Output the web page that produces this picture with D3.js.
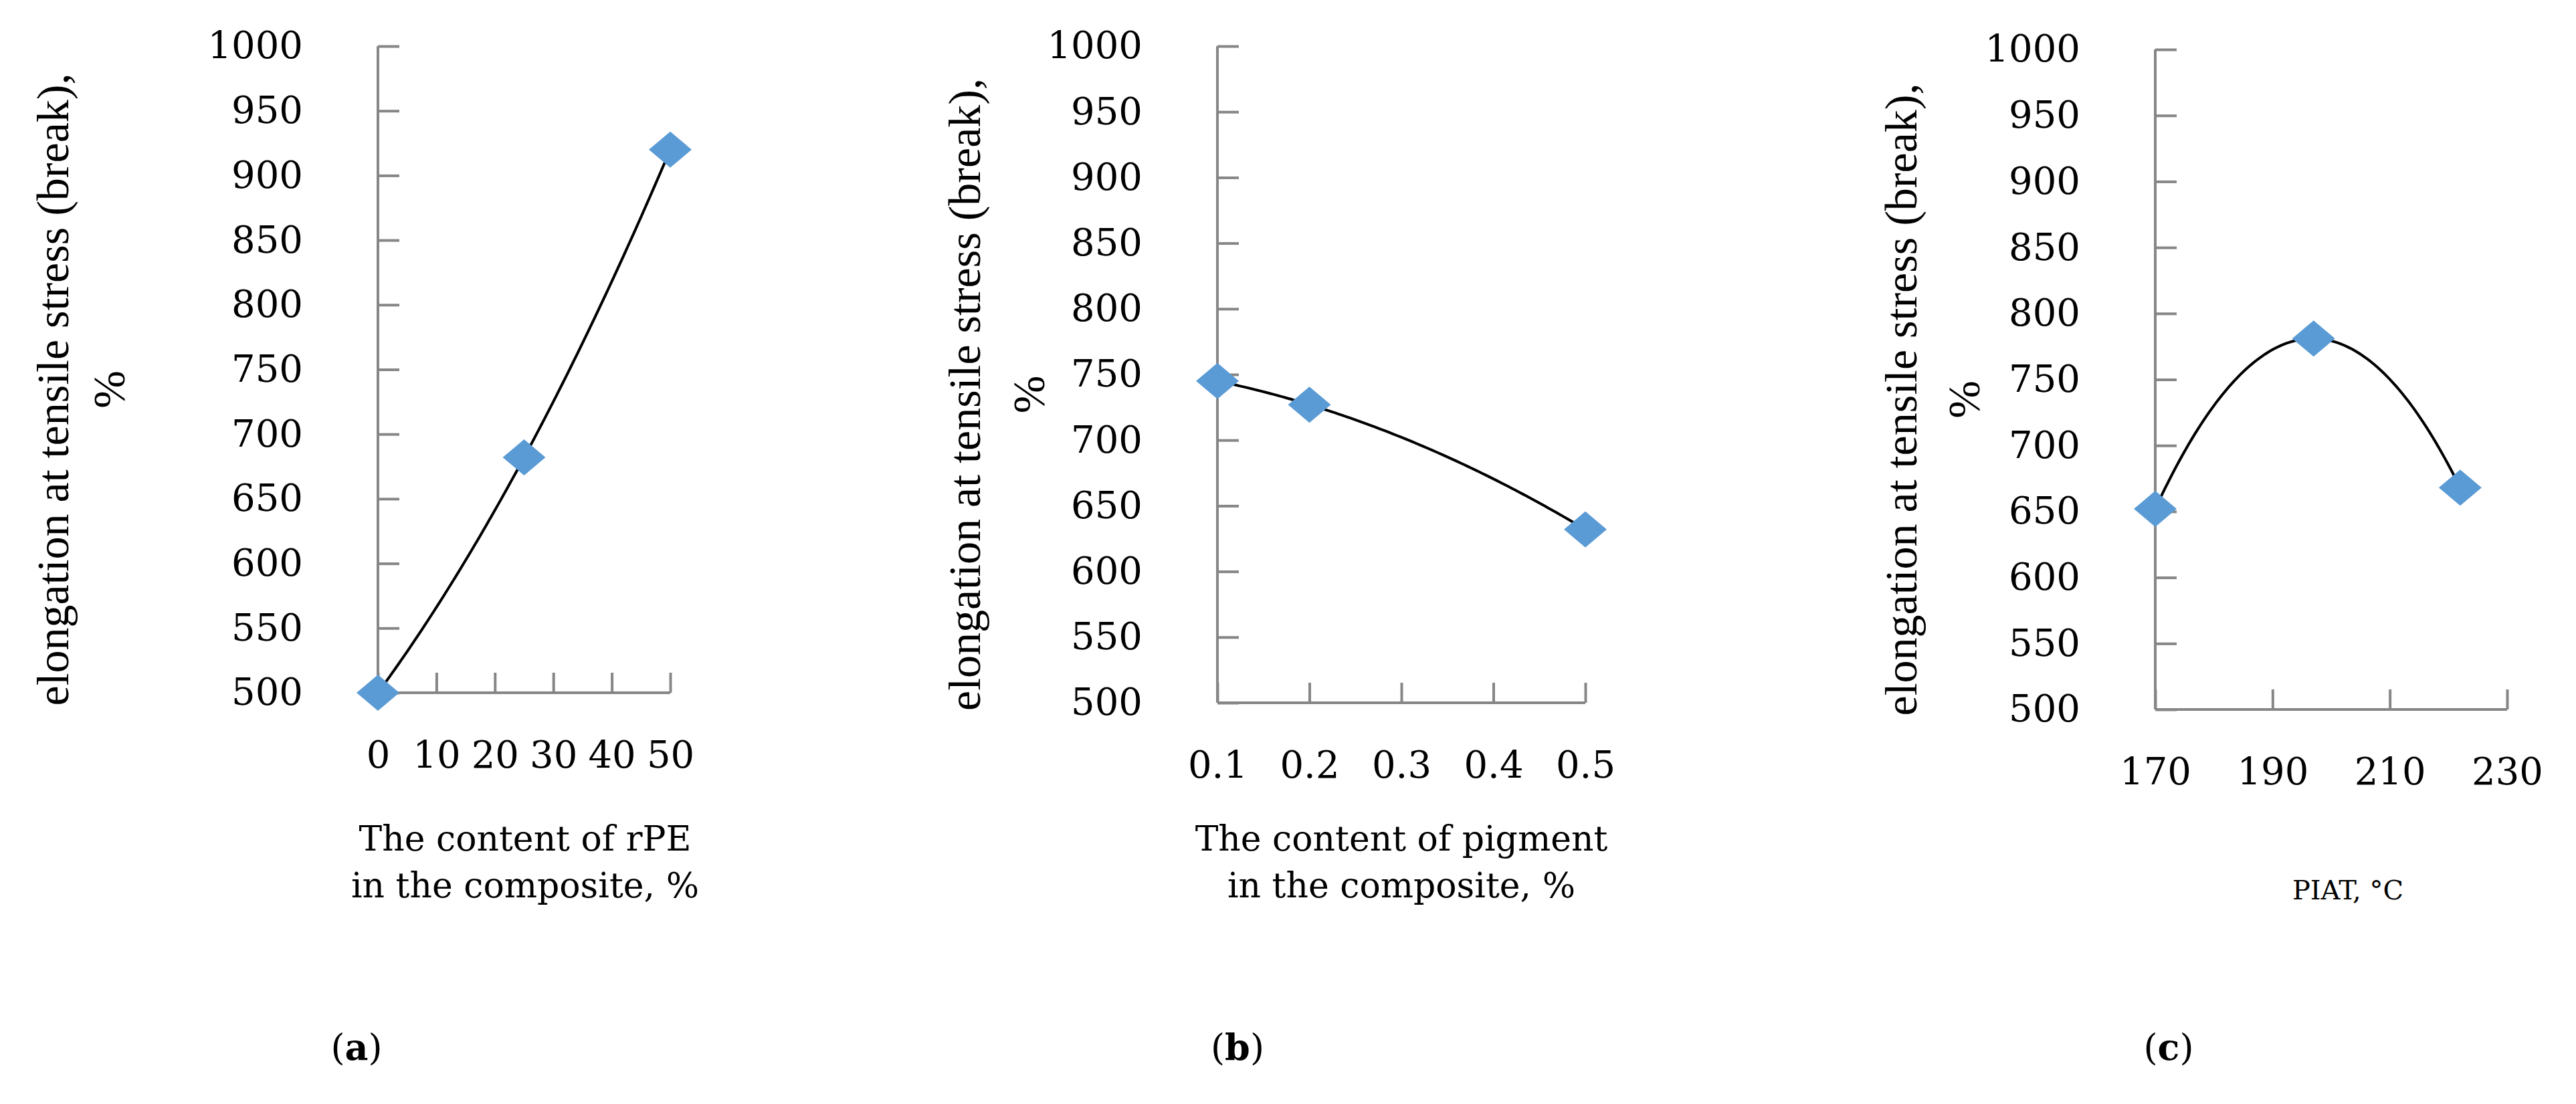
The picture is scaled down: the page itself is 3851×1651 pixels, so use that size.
<!DOCTYPE html>
<html><head><meta charset="utf-8">
<script src="https://cdn.jsdelivr.net/npm/d3@7"></script>
<style>body{margin:0;background:#fff}</style>
</head><body>
<div class="chart"></div>
<script>
var W = 3851, H = 1651;
var yTicks = [500, 550, 600, 650, 700, 750, 800, 850, 900, 950, 1000];

var rpeX = [0, 25, 50];
var rpeY = [500, 682, 920];
var rpeTicks = [0, 10, 20, 30, 40, 50];

var pigX = [0.1, 0.2, 0.5];
var pigY = [745, 727, 632];
var pigTicks = [0.1, 0.2, 0.3, 0.4, 0.5];

var piatX = [170, 197, 222];
var piatY = [652, 781, 668];
var piatTicks = [170, 190, 210, 230];

var font = "'DejaVu Serif', serif";
var fontY = "'Liberation Serif', serif";
var svg = d3.select(".chart").append("svg").attr("width", W).attr("height", H);

var panels = [
	{xs: rpeX, ys: rpeY, ticks: rpeTicks, left: 565, right: 1002, top: 69, bottom: 1036,
	 fmt: d3.format("d"), title: ["The content of rPE", "in the composite, %"], titleX: 785, titleSize: 52,
	 yl: 86, pct: 170, tag: "a", tagX: 533},
	{xs: pigX, ys: pigY, ticks: pigTicks, left: 1820, right: 2370, top: 69, bottom: 1051,
	 fmt: d3.format(".1f"), title: ["The content of pigment", "in the composite, %"], titleX: 2095, titleSize: 52,
	 yl: 1449, pct: 1545, tag: "b", tagX: 1850},
	{xs: piatX, ys: piatY, ticks: piatTicks, left: 3222, right: 3748, top: 74, bottom: 1061,
	 fmt: d3.format("d"), title: ["PIAT, °C"], titleX: 3510, titleSize: 40,
	 yl: 2849, pct: 2943, tag: "c", tagX: 3242}
];

function quad(xs, ys) {
	// polynomial (order 2) trendline through the three points
	return function(x) {
		var s = 0;
		for (var i = 0; i < 3; i++) {
			var t = ys[i];
			for (var j = 0; j < 3; j++) if (j != i) t *= (x - xs[j]) / (xs[i] - xs[j]);
			s += t;
		}
		return s;
	};
}

panels.forEach(function(p) {
	var x = d3.scaleLinear().domain(d3.extent(p.ticks)).range([p.left, p.right]);
	var y = d3.scaleLinear().domain([500, 1000]).range([p.bottom, p.top]);
	var g = svg.append("g");

	var ya = g.append("g").attr("transform", "translate(" + p.left + ",0)")
		.call(d3.axisRight(y).tickValues(yTicks).tickSize(32).tickFormat(d3.format("d")));
	ya.selectAll("text").attr("x", -112).attr("text-anchor", "end");
	var xa = g.append("g").attr("transform", "translate(0," + p.bottom + ")")
		.call(d3.axisTop(x).tickValues(p.ticks).tickSize(30).tickFormat(p.fmt));
	xa.selectAll("text").attr("y", 112);
	g.selectAll(".domain, .tick line").attr("stroke", "#868686").attr("stroke-width", 4);
	g.selectAll(".tick text").attr("font-family", font).attr("font-size", 56).attr("fill", "#000");
	ya.select(".domain").attr("d", "M0," + p.bottom + "V" + p.top);
	xa.select(".domain").attr("d", "M" + p.left + ",0H" + p.right);

	var f = quad(p.xs, p.ys);
	var d0 = d3.min(p.xs), d1 = d3.max(p.xs);
	var samples = d3.range(0, 101).map(function(i) { return d0 + (d1 - d0) * i / 100; });
	g.append("path").datum(samples)
		.attr("d", d3.line().x(function(d) { return x(d); }).y(function(d) { return y(f(d)); }))
		.attr("fill", "none").attr("stroke", "#000").attr("stroke-width", 4);

	g.selectAll(".pt").data(p.xs).enter().append("path")
		.attr("d", "M-32,0L0,-27L32,0L0,27Z")
		.attr("transform", function(d, i) { return "translate(" + x(d) + "," + y(p.ys[i]) + ")"; })
		.attr("fill", "#5B9BD5");

	var yc = (p.top + p.bottom) / 2 + 30;
	g.append("text").attr("transform", "translate(" + p.yl + "," + yc + ") rotate(-90)")
		.attr("text-anchor", "middle").attr("dominant-baseline", "middle")
		.attr("font-family", fontY).attr("font-size", 68).text("elongation at tensile stress (break),");
	g.append("text").attr("transform", "translate(" + p.pct + "," + yc + ") rotate(-90)")
		.attr("text-anchor", "middle").attr("dominant-baseline", "middle")
		.attr("font-family", fontY).attr("font-size", 68).text("%");

	p.title.forEach(function(t, i) {
		g.append("text").attr("x", p.titleX).attr("y", (p.title.length == 1 ? 1345 : 1272 + i * 70))
			.attr("text-anchor", "middle").attr("font-family", font).attr("font-size", p.titleSize).text(t);
	});
	var tg = g.append("text").attr("x", p.tagX).attr("y", 1585).attr("text-anchor", "middle")
		.attr("font-family", font).attr("font-size", 54);
	tg.append("tspan").text("(");
	tg.append("tspan").attr("font-weight", "bold").text(p.tag);
	tg.append("tspan").text(")");
});
</script>
</body></html>
